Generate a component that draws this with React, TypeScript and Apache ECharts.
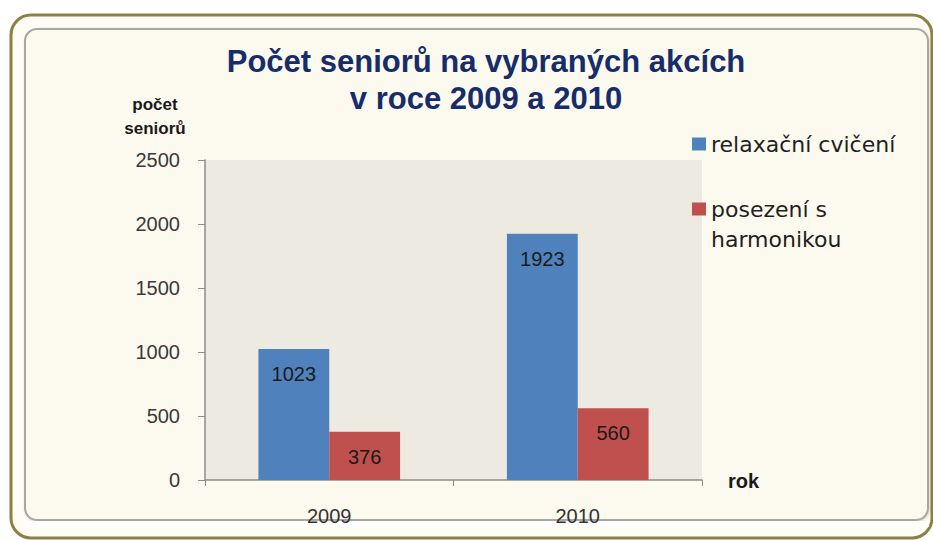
import React, { useEffect, useRef } from "react";
import * as echarts from "echarts";

const categories = ["2009", "2010"];
const relaxValues = [1023, 1923];
const harmonikaValues = [376, 560];
const seriesNames = ["relaxační cvičení", "posezení s harmonikou"];
const yTicks = { min: 0, max: 2500, interval: 500 };
const titleLines = ["Počet seniorů na vybraných akcích", "v roce 2009 a 2010"];

const FONT = "'Liberation Sans', Arial, Helvetica, sans-serif";
const LEGEND_FONT = "'DejaVu Sans', Verdana, sans-serif";

export default function App() {
  const ref = useRef<HTMLDivElement>(null);
  useEffect(() => {
    document.body.style.margin = "0";
    const chart = echarts.init(ref.current!, null, { renderer: "svg" });
    const legendText = { fontSize: 22, color: "#1f1f1f", fontFamily: LEGEND_FONT, lineHeight: 30 };
    const option: any = {
      animation: false,
      backgroundColor: "#ffffff",
      textStyle: { fontFamily: FONT },
      graphic: [
        {
          type: "rect",
          z: -10,
          shape: { x: 11, y: 15, width: 921, height: 523, r: 20 },
          style: { fill: "#fefcf4", stroke: "#8e8040", lineWidth: 3 },
          silent: true,
        },
        {
          type: "rect",
          z: -9,
          shape: { x: 25, y: 29, width: 903, height: 491, r: 12 },
          style: { fill: "#fcf9ee", stroke: "#a9a8a0", lineWidth: 2, shadowColor: "rgba(0,0,0,0.15)", shadowBlur: 3, shadowOffsetX: 1, shadowOffsetY: 1 },
          silent: true,
        },
        {
          type: "rect",
          z: -8,
          shape: { x: 24, y: 521, width: 905, height: 6 },
          style: { fill: "#ffffff" },
          silent: true,
        },
        {
          type: "text",
          x: 486,
          y: 43,
          style: {
            text: titleLines.join("\n"),
            font: `bold 31px ${FONT}`,
            fill: "#172d6b",
            lineHeight: 37,
            align: "center",
          },
        },
        {
          type: "text",
          x: 155,
          y: 92,
          style: {
            text: "počet\nseniorů",
            font: `bold 17px ${FONT}`,
            fill: "#1a1a1a",
            lineHeight: 24,
            align: "center",
          },
        },
        {
          type: "text",
          x: 728,
          y: 471,
          style: {
            text: "rok",
            font: `bold 20px ${FONT}`,
            fill: "#1a1a1a",
          },
        },
      ],
      legend: [
        {
          orient: "vertical",
          left: 692,
          top: 129,
          padding: 0,
          itemWidth: 14,
          itemHeight: 13,
          icon: "rect",
          textStyle: legendText,
          data: [seriesNames[0]],
        },
        {
          orient: "vertical",
          left: 692,
          top: 194,
          padding: 0,
          itemWidth: 14,
          itemHeight: 43,
          icon: "path://M0,0L14,0L14,13L0,13Z M0,43L0.01,43",
          textStyle: legendText,
          data: [seriesNames[1]],
          formatter: () => "posezení s\nharmonikou",
        },
      ],
      grid: { left: 205, right: 231, top: 160, bottom: 60, show: true, backgroundColor: "#edebe1", borderWidth: 0 },
      xAxis: {
        type: "category",
        data: categories,
        axisLine: { lineStyle: { color: "#8c8c8c", width: 1.5 } },
        axisTick: { show: true, length: 6, lineStyle: { color: "#8c8c8c" } },
        axisLabel: { fontSize: 20, color: "#333333", margin: 26, fontFamily: FONT },
      },
      yAxis: {
        type: "value",
        min: yTicks.min,
        max: yTicks.max,
        interval: yTicks.interval,
        axisLine: { show: true, lineStyle: { color: "#8c8c8c", width: 1.5 } },
        axisTick: { show: true, length: 7, lineStyle: { color: "#8c8c8c" } },
        splitLine: { show: false },
        axisLabel: {
          fontSize: 20,
          color: "#3a3a3a",
          margin: 25,
          fontFamily: FONT,
          formatter: (v: number) => String(v),
        },
      },
      series: [
        {
          name: seriesNames[0],
          type: "bar",
          data: relaxValues,
          barGap: "0%",
          barCategoryGap: "43%",
          itemStyle: { color: "#4f81bd" },
          label: { show: true, position: "insideTop", distance: 15, fontSize: 20, color: "#1a1a1a", fontFamily: FONT },
        },
        {
          name: seriesNames[1],
          type: "bar",
          data: harmonikaValues,
          barGap: "0%",
          barCategoryGap: "43%",
          itemStyle: { color: "#c0504d" },
          label: { show: true, position: "insideTop", distance: 15, fontSize: 20, color: "#1a1a1a", fontFamily: FONT },
        },
      ],
    };
    chart.setOption(option);
    return () => chart.dispose();
  }, []);
  return <div ref={ref} style={{ width: 933, height: 540 }} />;
}
